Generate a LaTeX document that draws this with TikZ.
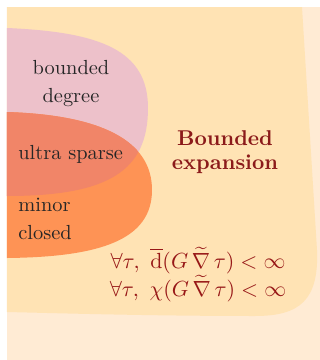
\documentclass[tikz,border=0pt]{standalone}
\usepackage{amsmath,amssymb}
\definecolor{bglight}{HTML}{FFEBD4}
\definecolor{bigreg}{HTML}{FFE3B4}
\definecolor{pinkreg}{HTML}{EDC1CA}
\definecolor{overreg}{HTML}{F18568}
\definecolor{orangereg}{HTML}{FE9355}
\definecolor{darkred}{HTML}{8B1A1A}
\begin{document}
\begin{tikzpicture}[x=0.5pt,y=-0.5pt,
  lbl/.style={text=black!85, inner sep=0pt, font=\fontsize{10.2}{14}\selectfont},
  redlbl/.style={text=darkred, inner sep=0pt, align=center},
  eqlbl/.style={text=darkred!90!red, inner sep=0pt, font=\fontsize{10.6}{13}\selectfont}]
\useasboundingbox (0,0) rectangle (320,360);
\fill[bglight] (7,7) rectangle (320,360);
\fill[bigreg] (7,7) -- (302,7) -- (317,250) .. controls (319,300) and (300,316) .. (255,316)
  .. controls (150,316) and (50,313) .. (7,312) -- cycle;
\def\pinkpath{(7,28) .. controls (100,32) and (148,50) .. (148,108) .. controls (148,170) and (110,196) .. (7,196) -- cycle}
\def\orangepath{(7,112) .. controls (100,115) and (152,140) .. (152,190) .. controls (152,240) and (100,257) .. (7,258) -- cycle}
\fill[pinkreg] \pinkpath;
\fill[orangereg] \orangepath;
\begin{scope}
  \clip \orangepath;
  \fill[overreg] \pinkpath;
\end{scope}
\node[lbl, align=center] (bd) at (71,84) {bounded\\degree};
\node[lbl, anchor=west] (us) at (18,154) {ultra sparse};
\node[lbl, anchor=west, align=left] (mc) at (18,219) {minor\\closed};
\node[redlbl, font=\fontsize{10.7}{12}\selectfont\bfseries] (be) at (225,152) {Bounded\\expansion};
\node[eqlbl, anchor=base] (eq1) at (198,268)
  {$\forall\tau,\ \overline{\mathrm{d}}(G\,\widetilde{\nabla}\,\tau) < \infty$};
\node[eqlbl, anchor=base] (eq2) at (198,296)
  {$\forall\tau,\ \chi(G\,\widetilde{\nabla}\,\tau) < \infty$};
\end{tikzpicture}
\end{document}
